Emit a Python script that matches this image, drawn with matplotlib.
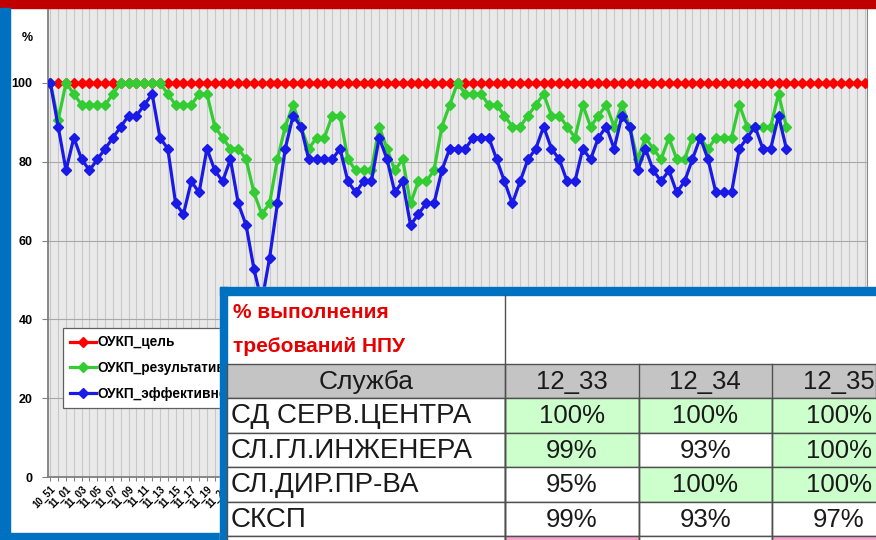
import matplotlib.pyplot as plt
import matplotlib.transforms as mtransforms
from matplotlib.patches import Rectangle

plt.rcParams['font.family'] = ['Liberation Sans', 'DejaVu Sans']

# weeks on the x axis (year_week)
weeks = ['10_51', '10_52'] + ['11_%02d' % w for w in range(1, 53)] + ['12_%02d' % w for w in range(1, 52)]

# target line, 100 % every week
target = [100] * len(weeks)

# ОУКП_результативность, %
result = [100, 90.6, 100, 97.2, 94.4, 94.4, 94.4, 94.4, 97.2, 100,
          100, 100, 100, 100, 100, 97.2, 94.4, 94.4, 94.4, 97.2,
          97.2, 88.9, 86.1, 83.3, 83.3, 80.6, 72.2, 66.7, 69.4, 80.6,
          88.9, 94.4, 88.9, 83.3, 86.1, 86.1, 91.7, 91.7, 80.6, 77.8,
          77.8, 77.8, 88.9, 83.3, 77.8, 80.6, 69.4, 75.0, 75.0, 77.8,
          88.9, 94.4, 100, 97.2, 97.2, 97.2, 94.4, 94.4, 91.7, 88.9,
          88.9, 91.7, 94.4, 97.2, 91.7, 91.7, 88.9, 86.1, 94.4, 88.9,
          91.7, 94.4, 88.9, 94.4, 88.9, 80.6, 86.1, 83.3, 80.6, 86.1,
          80.6, 80.6, 86.1, 86.1, 83.3, 86.1, 86.1, 86.1, 94.4, 88.9,
          88.9, 88.9, 88.9, 97.2, 88.9]

# ОУКП_эффективность, %
effect = [100, 88.9, 77.8, 86.1, 80.6, 77.8, 80.6, 83.3, 86.1, 88.9,
          91.7, 91.7, 94.4, 97.2, 86.1, 83.3, 69.4, 66.7, 75.0, 72.2,
          83.3, 77.8, 75.0, 80.6, 69.4, 63.9, 52.8, 44.4, 55.6, 69.4,
          83.3, 91.7, 88.9, 80.6, 80.6, 80.6, 80.6, 83.3, 75.0, 72.2,
          75.0, 75.0, 86.1, 80.6, 72.2, 75.0, 63.9, 66.7, 69.4, 69.4,
          77.8, 83.3, 83.3, 83.3, 86.1, 86.1, 86.1, 80.6, 75.0, 69.4,
          75.0, 80.6, 83.3, 88.9, 83.3, 80.6, 75.0, 75.0, 83.3, 80.6,
          86.1, 88.9, 83.3, 91.7, 88.9, 77.8, 83.3, 77.8, 75.0, 77.8,
          72.2, 75.0, 80.6, 86.1, 80.6, 72.2, 72.2, 72.2, 83.3, 86.1,
          88.9, 83.3, 83.3, 91.7, 83.3]

series_names = ['ОУКП_цель', 'ОУКП_результативность', 'ОУКП_эффективность']
series_colors = ['#ff0000', '#33cc33', '#1a1ae6']
yticks = [0, 20, 40, 60, 80, 100]

# table overlay
table_title = ['% выполнения', 'требований НПУ']
table_head = 'Служба'
services = ['СД СЕРВ.ЦЕНТРА', 'СЛ.ГЛ.ИНЖЕНЕРА', 'СЛ.ДИР.ПР-ВА', 'СКСП', '']
periods = ['12_33', '12_34', '12_35']
percent = [['100%', '100%', '100%'],
           ['99%', '93%', '100%'],
           ['95%', '100%', '100%'],
           ['99%', '93%', '97%'],
           ['', '', '']]
cell_fill = [['#ccffcc', '#ccffcc', '#ccffcc'],
             ['#ccffcc', 'white', '#ccffcc'],
             ['white', '#ccffcc', '#ccffcc'],
             ['white', 'white', 'white'],
             ['#f5a3cc', 'white', '#f5a3cc']]

W, H = 876, 540
fig = plt.figure(figsize=(W / 100, H / 100), dpi=100)

# ---- chart ----
ax = fig.add_axes([48 / W, (H - 477) / H, (867 - 48) / W, (477 - 8) / H])
ax.set_facecolor('#e9e9e9')
x = list(range(len(weeks)))
data = [target, result, effect]
for i, (vals, name, col) in enumerate(zip(data, series_names, series_colors)):
    ax.plot(x[:len(vals)], vals, color=col, lw=2.3, marker='D', ms=5.3,
            label=name, zorder=3 + i)

ax.set_xlim(-0.3, 104.3)
ax.set_ylim(0, 119)
ax.set_yticks(yticks)
ax.set_yticklabels([str(v) for v in yticks], fontsize=9, fontweight='bold')
ax.set_xticks(x)
ax.set_xticklabels([w if i % 2 == 0 else '' for i, w in enumerate(weeks)],
                   rotation=45, ha='right', va='top', rotation_mode='anchor',
                   fontsize=7, fontweight='bold')
offset = mtransforms.ScaledTranslation(-0.13, -0.19, fig.dpi_scale_trans)
for lbl in ax.get_xticklabels():
    lbl.set_transform(lbl.get_transform() + offset)

ax.xaxis.grid(True, color='#c8c8c8', lw=0.8)
ax.yaxis.grid(True, color='#a8a8a8', lw=0.8)
ax.set_axisbelow(True)
ax.tick_params(axis='y', length=4, color='#808080', pad=7)
ax.tick_params(axis='x', length=3, color='#808080', pad=2)
for s in ['left', 'bottom']:
    ax.spines[s].set_color('#7f7f7f')
    ax.spines[s].set_linewidth(1.3)
ax.spines['right'].set_color('#8a8a8a')
ax.spines['top'].set_visible(False)

fig.text(27 / W, 1 - 38 / H, '%', fontsize=9, fontweight='bold',
         ha='center', va='center')

leg = ax.legend(loc='upper left', bbox_to_anchor=(63 / W, 1 - 328 / H),
                bbox_transform=fig.transFigure, fancybox=False,
                framealpha=1, edgecolor='#606060', borderaxespad=0,
                prop={'weight': 'bold', 'size': 9.8}, handlelength=1.9,
                handletextpad=0.1, labelspacing=0.85, borderpad=0.55)
leg.get_frame().set_linewidth(0.9)

# ---- slide decoration and table (pixel coordinates) ----
ov = fig.add_axes([0, 0, 1, 1])
ov.set_zorder(5)
ov.set_xlim(0, W)
ov.set_ylim(H, 0)
ov.axis('off')
ov.patch.set_alpha(0)

blue = '#0070c0'
ov.add_patch(Rectangle((0, 0), W, 8, color='#c00000'))
ov.add_patch(Rectangle((0, 8), 10, H - 8, color=blue))
ov.add_patch(Rectangle((0, 533), 227, 7, color=blue))

ov.add_patch(Rectangle((220, 287), W - 220, H - 287, color='white'))
ov.add_patch(Rectangle((220, 287), 7, H - 287, color=blue))
ov.add_patch(Rectangle((220, 287), W - 220, 8, color=blue))

col_x = [227, 505, 638.5, 772, 905.5]
title_top, head_top, row_h = 295, 364, 34.5
line_c = '#505050'

ov.text(233, 313, table_title[0], color='#e60000', fontsize=15,
        fontweight='bold', va='center')
ov.text(233, 347, table_title[1], color='#e60000', fontsize=15,
        fontweight='bold', va='center')
ov.plot([505, 505], [title_top, H], color=line_c, lw=1)

# header row
ov.add_patch(Rectangle((col_x[0], head_top), W - col_x[0], 34, fc='#c4c4c4',
                       ec=line_c, lw=1))
for c0, c1 in zip(col_x[:-1], col_x[1:]):
    ov.plot([c1, c1], [head_top, H], color=line_c, lw=1)
ov.text((col_x[0] + col_x[1]) / 2, head_top + 18, table_head, fontsize=19,
        ha='center', va='center', color='#1a1a1a')
for j, p in enumerate(periods):
    ov.text((col_x[j + 1] + col_x[j + 2]) / 2, head_top + 18, p, fontsize=18.5,
            ha='center', va='center', color='#1a1a1a')

# body rows
for i, name in enumerate(services):
    top = head_top + 34 + i * row_h
    ov.add_patch(Rectangle((col_x[0], top), col_x[1] - col_x[0], row_h,
                           fc='white', ec=line_c, lw=1))
    ov.text(231, top + row_h / 2 + 1, name, fontsize=20, ha='left',
            va='center', color='#1a1a1a')
    for j in range(3):
        ov.add_patch(Rectangle((col_x[j + 1], top), col_x[j + 2] - col_x[j + 1],
                               row_h, fc=cell_fill[i][j], ec=line_c, lw=1))
        ov.text((col_x[j + 1] + col_x[j + 2]) / 2, top + row_h / 2 + 1,
                percent[i][j], fontsize=18.5, ha='center', va='center',
                color='#1a1a1a')

fig.savefig('out.png', dpi=100)
